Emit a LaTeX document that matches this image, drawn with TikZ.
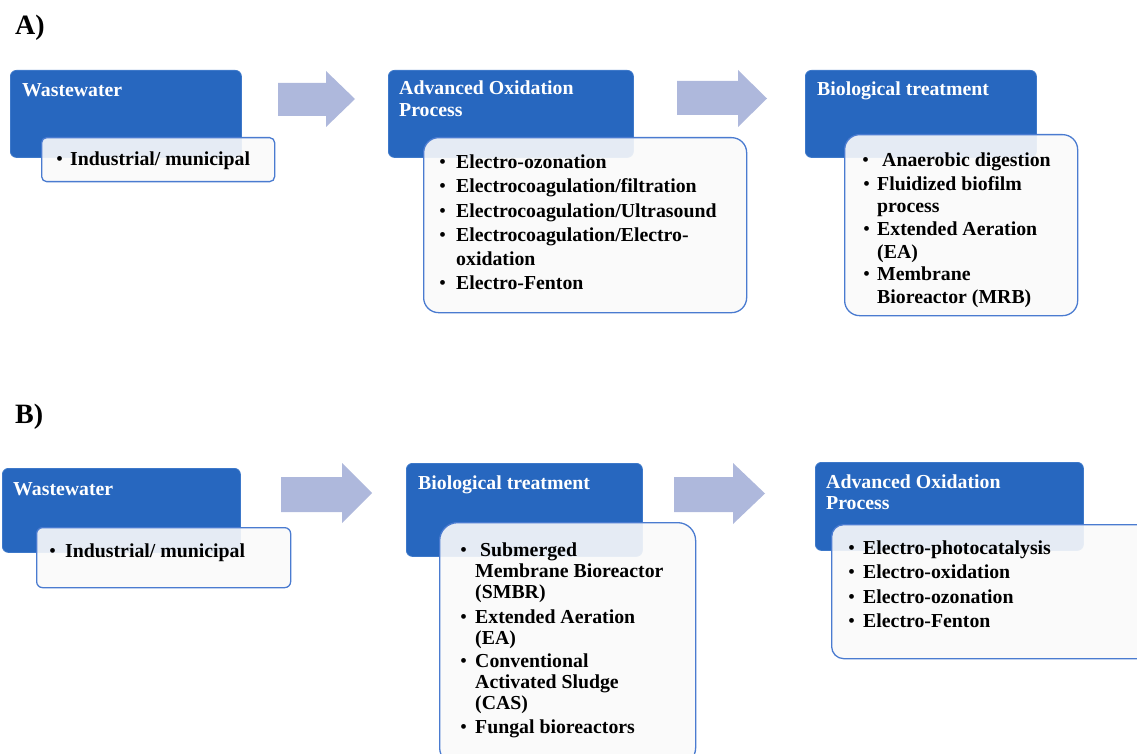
\documentclass[tikz,border=0pt]{standalone}
\usepackage{fontspec}
\setmainfont{Liberation Serif}
\definecolor{hdr}{HTML}{2767BF}
\definecolor{hdrline}{HTML}{3D78C9}
\definecolor{boxline}{HTML}{4A7BD0}
\definecolor{arrowc}{HTML}{AEB8DC}
\definecolor{boxfill}{HTML}{FAFAFA}
\newcommand\mybul[3]{\node[bltx] (#1) at (#2,#3) {\textbullet};}
\begin{document}
\begin{tikzpicture}[x=1pt,y=-1pt,
 hdrbox/.style={fill=hdr, draw=hdrline, line width=0.8pt, rounded corners=6pt, anchor=north west, inner sep=0pt},
 listbox/.style={fill=boxfill, fill opacity=0.9, draw=boxline, draw opacity=1, line width=1.3pt, anchor=north west, inner sep=0pt},
 flowarrow/.style={fill=arrowc, draw=none},
 ttl/.style={anchor=base west, inner sep=0pt, text=white, font=\bfseries\fontsize{19.8}{22}\selectfont},
 itm/.style={anchor=base west, inner sep=0pt, font=\bfseries\fontsize{19.8}{24}\selectfont},
 bltx/.style={anchor=base west, inner sep=0pt, font=\mdseries\fontsize{20}{24}\selectfont},
 panel/.style={anchor=base west, inner sep=0pt, font=\bfseries\fontsize{28}{30}\selectfont}]
\path[use as bounding box, clip] (0,0) rectangle (1137,754);

% ---------------- Panel A ----------------
\node[panel] (pa) at (15,35) {A)};
\node[hdrbox, minimum width=231pt, minimum height=87pt] (ww1) at (10,70) {};
\node[hdrbox, minimum width=245pt, minimum height=87pt] (aop1) at (388,70) {};
\node[hdrbox, minimum width=231pt, minimum height=87pt] (bio1) at (805,70) {};

\fill[flowarrow] (278,83) -- (326,83) -- (326,71) -- (355,99) -- (326,127) -- (326,116) -- (278,116) -- cycle;
\fill[flowarrow] (677,81) -- (738,81) -- (738,70) -- (767,98.5) -- (738,127) -- (738,115) -- (677,115) -- cycle;

\node[listbox, rounded corners=5pt, minimum width=233pt, minimum height=44pt] (ind1) at (41,137) {};
\node[listbox, rounded corners=15pt, minimum width=323pt, minimum height=175pt] (aopl1) at (423,137) {};
\node[listbox, rounded corners=15pt, minimum width=233pt, minimum height=181pt] (biol1) at (844,134) {};

\node[ttl] (tww1) at (22,97) {Wastewater};
\mybul{b11}{56}{166}
\node[itm] (i11) at (70,166) {Industrial/ municipal};

\node[ttl] (taop1a) at (399,95) {Advanced Oxidation};
\node[ttl] (taop1b) at (399,117) {Process};
\mybul{b21}{439}{169}
\node[itm] (i21) at (456,169) {Electro-ozonation};
\mybul{b22}{439}{193}
\node[itm] (i22) at (456,193) {Electrocoagulation/filtration};
\mybul{b23}{439}{217}
\node[itm] (i23) at (456,217) {Electrocoagulation/Ultrasound};
\mybul{b24}{439}{241}
\node[itm] (i24) at (456,241) {Electrocoagulation/Electro-};
\node[itm] (i24b) at (456,265) {oxidation};
\mybul{b25}{439}{289}
\node[itm] (i25) at (456,289) {Electro-Fenton};

\node[ttl] (tbio1) at (817,96) {Biological treatment};
\mybul{b31}{862}{167}
\node[itm] (i31) at (882,167) {Anaerobic digestion};
\mybul{b32}{863}{190}
\node[itm] (i32) at (877,190) {Fluidized biofilm};
\node[itm] (i32b) at (877,212) {process};
\mybul{b33}{863}{235}
\node[itm] (i33) at (877,235) {Extended Aeration};
\node[itm] (i33b) at (877,258) {(EA)};
\mybul{b34}{863}{280}
\node[itm] (i34) at (877,280) {Membrane};
\node[itm] (i34b) at (877,303) {Bioreactor (MRB)};

% ---------------- Panel B ----------------
\node[panel] (pb) at (15,423) {B)};
\node[hdrbox, minimum width=238pt, minimum height=84pt] (ww2) at (2,468) {};
\node[hdrbox, minimum width=236pt, minimum height=93pt] (bio2) at (406,463) {};
\node[hdrbox, minimum width=268pt, minimum height=88pt] (aop2) at (815,462) {};

\fill[flowarrow] (281,477) -- (342,477) -- (342,463) -- (372,493) -- (342,523) -- (342,512) -- (281,512) -- cycle;
\fill[flowarrow] (674,477) -- (733,477) -- (733,463) -- (765,493.5) -- (733,524) -- (733,512) -- (674,512) -- cycle;

\node[listbox, rounded corners=6pt, minimum width=254pt, minimum height=60pt] (ind2) at (36,527) {};
\node[listbox, rounded corners=18pt, minimum width=256pt, minimum height=243pt] (biol2) at (439,522) {};
\node[listbox, rounded corners=12pt, minimum width=319pt, minimum height=134pt] (aopl2) at (831,524) {};

\node[ttl] (tww2) at (13,495) {Wastewater};
\mybul{b41}{49}{557}
\node[itm] (i41) at (65,557) {Industrial/ municipal};

\node[ttl] (tbio2) at (418,489) {Biological treatment};
\mybul{b51}{460}{556}
\node[itm] (i51) at (480,556) {Submerged};
\node[itm] (i51b) at (475,577) {Membrane Bioreactor};
\node[itm] (i51c) at (475,598) {(SMBR)};
\mybul{b52}{460}{623}
\node[itm] (i52) at (475,623) {Extended Aeration};
\node[itm] (i52b) at (475,644) {(EA)};
\mybul{b53}{460}{667}
\node[itm] (i53) at (475,667) {Conventional};
\node[itm] (i53b) at (475,688) {Activated Sludge};
\node[itm] (i53c) at (475,709) {(CAS)};
\mybul{b54}{460}{733}
\node[itm] (i54) at (475,733) {Fungal bioreactors};

\node[ttl] (taop2a) at (826,488) {Advanced Oxidation};
\node[ttl] (taop2b) at (826,509) {Process};
\mybul{b61}{848}{554}
\node[itm] (i61) at (863,554) {Electro-photocatalysis};
\mybul{b62}{848}{578}
\node[itm] (i62) at (863,578) {Electro-oxidation};
\mybul{b63}{848}{603}
\node[itm] (i63) at (863,603) {Electro-ozonation};
\mybul{b64}{848}{627}
\node[itm] (i64) at (863,627) {Electro-Fenton};
\end{tikzpicture}
\end{document}
